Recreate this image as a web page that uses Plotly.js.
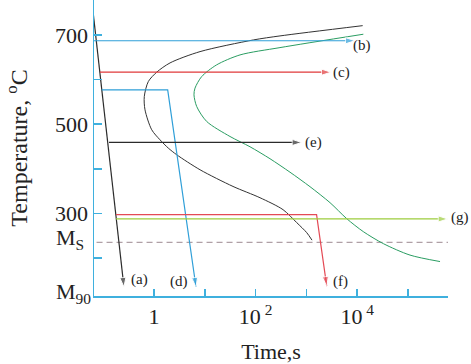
<!DOCTYPE html>
<html>
<head>
<meta charset="utf-8">
<script src="https://cdn.plot.ly/plotly-3.0.1.min.js"></script>
<style>html,body{margin:0;padding:0;background:#fff;}#chart{width:471px;height:364px;}</style>
</head>
<body>
<div id="chart"></div>
<script>
// TTT curve: transformation start (black)
const startTime = [12800, 302, 90.6, 8.05, 2.07, 1.13, 0.773, 0.644, 0.665, 0.902, 1.31, 1.91, 2.80, 8.05, 35.9, 122, 347, 646, 1014, 1288];
const startTemp = [720.8, 697.8, 688.8, 662.6, 637.3, 616.5, 595.5, 561.9, 532.1, 487.4, 465, 446.4, 431.4, 397.8, 360.4, 335.1, 308.3, 279.2, 256.8, 240];
// TTT curve: transformation finish (green)
const finishTime = [13200, 302, 49.3, 17.1, 8.69, 6.41, 6.12, 6.93, 10.9, 31.3, 77.6, 192, 475, 1178, 2917, 6209, 13183, 32660, 109400, 426600];
const finishTemp = [701.6, 671.6, 655.2, 632.9, 606.7, 580.7, 565.7, 539.5, 506, 472.4, 449.3, 422.5, 392.3, 359.8, 324, 288.2, 259.1, 232.2, 206.5, 192];
// Cooling paths (a)-(g)
const pathLabels = ['(a)', '(b)', '(c)', '(d)', '(e)', '(f)', '(g)'];
const pathTimes = [
  [0.0638, 0.256],
  [0.066, 9060],
  [0.0865, 3048],
  [0.0933, 1.86, 6.71],
  [0.130, 807],
  [0.1786, 1585, 2512],
  [0.1786, 605000]
];
const pathTemps = [
  [747, 135],
  [687, 687],
  [616.5, 616.5],
  [577, 577, 135],
  [459, 459],
  [297, 297, 137],
  [287.5, 287.5]
];
// Martensite start line
const msTime = [0.074, 676000];
const msTemp = [235, 235];
const m90Temp = 114.8;
// Axis ticks
const xTickVals = [1, 10, 100, 1000, 10000, 100000];
const xTickText = ['1', '', '10<sup> 2</sup>', '', '10<sup> 4</sup>', ''];
const yTickVals = [200, 300, 400, 500, 600, 700];
const yTickText = ['', '300', '', '500', '', '700'];

const blue = '#3fb0de';
const pathColors = ['#2b2b2b', '#2f9fd8', '#e0383a', '#2f9fd8', '#2b2b2b', '#e44a55', '#9ccc3c'];
const labelOffsets = [
  {xa: 'left', dx: 6, dy: 7},
  {xa: 'left', dx: -3, dy: -5},
  {xa: 'left', dx: 1, dy: 0},
  {xa: 'right', dx: -7, dy: 5},
  {xa: 'left', dx: 2, dy: 0},
  {xa: 'left', dx: 5, dy: 5},
  {xa: 'left', dx: 2, dy: 1}
];
const font = '"Liberation Serif", "Times New Roman", serif';

const traces = [];
traces.push({x: msTime, y: msTemp, mode: 'lines', line: {color: '#b0a0a6', width: 1.2, dash: '6px,4px'}, cliponaxis: false});
traces.push({x: startTime, y: startTemp, mode: 'lines', line: {color: '#333333', width: 1, shape: 'spline', smoothing: 0.8}});
traces.push({x: finishTime, y: finishTemp, mode: 'lines', line: {color: '#2a9d62', width: 1, shape: 'spline', smoothing: 0.8}});
pathTimes.forEach((t, i) => {
  traces.push({
    x: t, y: pathTemps[i], mode: 'lines+markers', cliponaxis: false,
    line: {color: pathColors[i], width: 1.2},
    marker: {symbol: 'arrow', angleref: 'previous', color: pathColors[i],
             size: t.map((_, j) => j === t.length - 1 ? 10 : 0)}
  });
});

const annotations = pathLabels.map((lab, i) => {
  const t = pathTimes[i], T = pathTemps[i], n = t.length - 1;
  const o = labelOffsets[i];
  return {x: Math.log10(t[n]), y: T[n], xref: 'x', yref: 'y', text: lab, showarrow: false,
          xanchor: o.xa, yanchor: 'middle', xshift: o.dx, yshift: o.dy, borderpad: 0,
          font: {family: font, size: 15, color: '#222'}};
});
annotations.push({x: 0, y: msTemp[0], xref: 'paper', yref: 'y', text: 'M<sub>S</sub>', showarrow: false,
  xanchor: 'right', yanchor: 'middle', xshift: -8, yshift: 3, font: {family: font, size: 22, color: '#222'}});
annotations.push({x: 0, y: m90Temp, xref: 'paper', yref: 'y', text: 'M<sub>90</sub>', showarrow: false,
  xanchor: 'right', yanchor: 'middle', xshift: -1, yshift: 3, font: {family: font, size: 22, color: '#222'}});

const layout = {
  width: 471, height: 364,
  margin: {l: 94, r: 23, t: 0, b: 67.5},
  paper_bgcolor: '#fff', plot_bgcolor: '#fff',
  showlegend: false,
  font: {family: font, size: 22, color: '#222'},
  xaxis: {
    type: 'log', range: [-1.181, 5.787],
    tickmode: 'array', tickvals: xTickVals, ticktext: xTickText,
    ticks: 'inside', ticklen: 7, tickwidth: 1.5, tickcolor: blue,
    showline: true, linecolor: blue, linewidth: 1.5,
    showgrid: false, zeroline: false,
    tickfont: {family: font, size: 22, color: '#222'},
    title: {text: 'Time,s', font: {family: font, size: 22, color: '#222'}, standoff: 16}
  },
  yaxis: {
    range: [114.8, 778.3],
    tickmode: 'array', tickvals: yTickVals, ticktext: yTickText,
    ticks: 'inside', ticklen: 8, tickwidth: 1.5, tickcolor: blue,
    showline: true, linecolor: blue, linewidth: 1.5,
    showgrid: false, zeroline: false,
    tickfont: {family: font, size: 22, color: '#222'},
    title: {text: 'Temperature, <sup>o</sup>C', font: {family: font, size: 24, color: '#222'}, standoff: 20}
  },
  annotations: annotations
};

Plotly.newPlot('chart', traces, layout, {staticPlot: true});
</script>
</body>
</html>
